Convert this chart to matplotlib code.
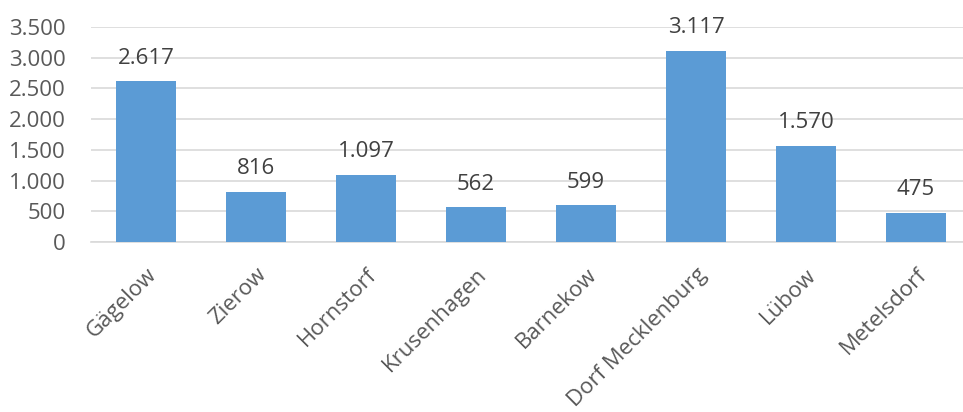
import matplotlib.pyplot as plt

plt.rcParams['font.family'] = ['Open Sans', 'DejaVu Sans']

orte = ['Gägelow', 'Zierow', 'Hornstorf', 'Krusenhagen', 'Barnekow',
        'Dorf Mecklenburg', 'Lübow', 'Metelsdorf']
einwohner = [2617, 816, 1097, 562, 599, 3117, 1570, 475]
yticks = [0, 500, 1000, 1500, 2000, 2500, 3000, 3500]


def de_fmt(v):
    return f'{v:,}'.replace(',', '.')


textfarbe = '#595959'

fig = plt.figure(figsize=(9.63, 4.12), dpi=100)
ax = fig.add_axes([91 / 963, 1 - 242 / 412, 880 / 963, 215 / 412])

x = range(len(orte))
bars = ax.bar(x, einwohner, width=0.55, color='#5B9BD5', zorder=3)

for b, v in zip(bars, einwohner):
    ax.annotate(de_fmt(v), (b.get_x() + b.get_width() / 2, v),
                xytext=(0, 9), textcoords='offset points',
                ha='center', va='bottom', fontsize=16, color='#404040')

ax.set_xlim(-0.5, len(orte) - 0.5)
ax.set_ylim(0, 3500)
ax.set_yticks(yticks)
ax.set_yticklabels([de_fmt(t) for t in yticks], fontsize=16, color=textfarbe)
ax.set_xticks(list(x))
ax.set_xticklabels(orte, rotation=45, ha='right', rotation_mode='anchor',
                   fontsize=16, color=textfarbe)

ax.grid(axis='y', color='#D9D9D9', linewidth=1.2, zorder=0)
for s in ['top', 'right', 'left']:
    ax.spines[s].set_visible(False)
ax.spines['bottom'].set_color('#D9D9D9')
ax.spines['bottom'].set_linewidth(1.2)
ax.tick_params(length=0)
ax.tick_params(axis='y', pad=18)
ax.tick_params(axis='x', pad=16)

fig.savefig('out.png', dpi=100)
